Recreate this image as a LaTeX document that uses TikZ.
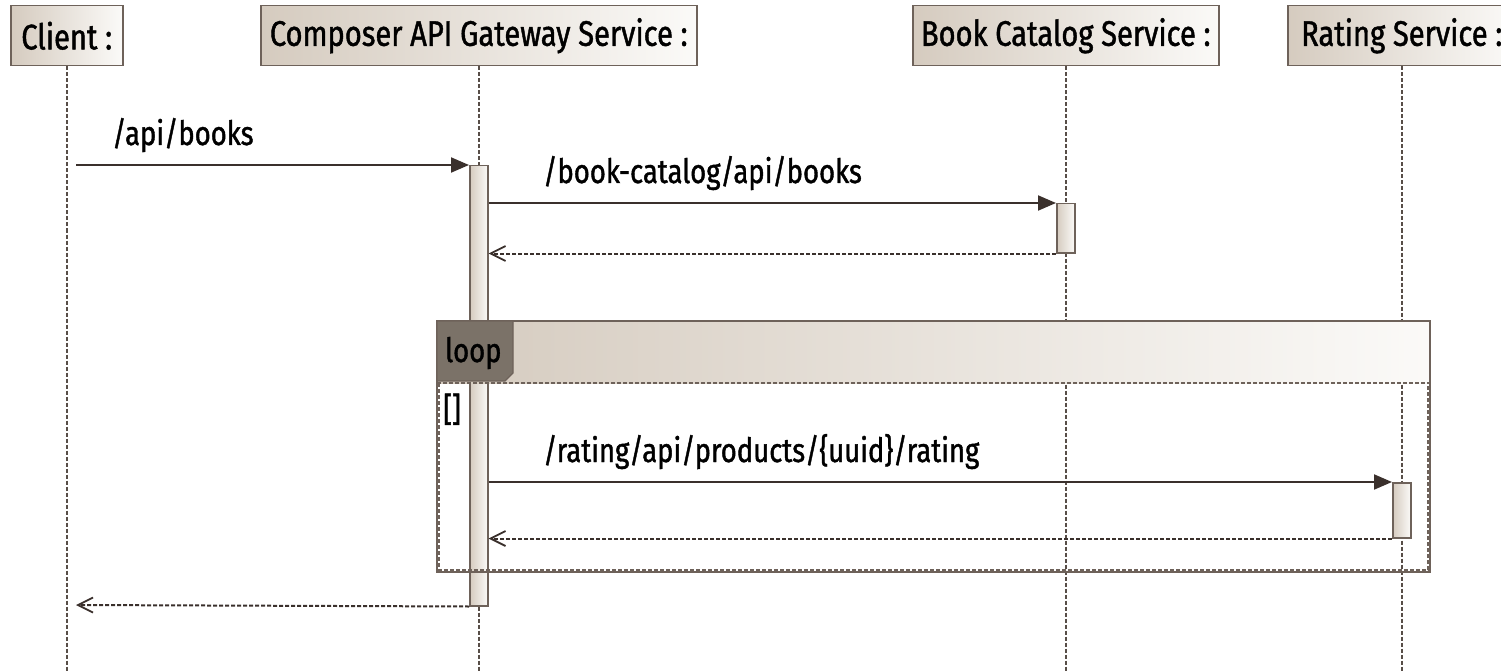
\documentclass[tikz,border=0pt]{standalone}
\usepackage{fontspec}
\setmainfont[FakeStretch=0.82,FakeBold=1.2]{Fira Sans}
\usetikzlibrary{arrows.meta}
\definecolor{edge}{HTML}{6E625A}
\definecolor{ink}{HTML}{3A302C}
\definecolor{headL}{HTML}{D5CBBF}
\definecolor{headR}{HTML}{FBFAF8}
\definecolor{tabfill}{HTML}{7B7268}
\tikzset{
  head/.style={draw=edge, line width=1.5pt, left color=headL, right color=headR,
    anchor=north west, minimum height=60pt, inner sep=0pt, text=black,
    font=\fontsize{35.5}{40}\selectfont},
  lifeline/.style={draw=edge!80!black, line width=1.5pt, dash pattern=on 4pt off 2pt},
  actbox/.style={draw=edge, line width=1.5pt, left color=headL, right color=headR,
    anchor=north, minimum width=18pt, inner sep=0pt},
  call/.style={draw=ink, line width=2pt, -{Triangle[length=18pt,width=15pt]}},
  reply/.style={draw=ink, line width=2pt, dash pattern=on 4pt off 2pt,
    -{Straight Barb[length=15pt,width=15pt,line width=1.8pt]}},
  lbl/.style={anchor=base west, inner sep=0pt, text=black},
}
\begin{document}
\begin{tikzpicture}[x=1pt, y=-1pt, font=\fontsize{33.5}{38}\selectfont]
\useasboundingbox (0,0) rectangle (1501,671);

% participants
\node[head, minimum width=112pt] (client) at (10,5) {Client :\hspace{4pt}};
\node[head, minimum width=436pt] (gw) at (260,5) {Composer API Gateway Service :\hspace{8pt}};
\node[head, minimum width=306pt] (book) at (912,5) {Book Catalog Service :\hspace{6pt}};
\node[head, minimum width=228pt] (rating) at (1287,5) {Rating Service :\hspace{12pt}};

% lifelines
\coordinate (client-end) at (client.south |- 0,671);
\coordinate (gw-end) at (gw.south |- 0,671);
\coordinate (book-end) at (book.south |- 0,671);
\coordinate (rating-end) at (rating.south |- 0,671);
\draw[lifeline] (client) -- (client-end);
\draw[lifeline] (gw) -- (gw-end);
\draw[lifeline] (book) -- (book-end);
\draw[lifeline] (rating) -- (rating-end);

% activations
\node[actbox, minimum height=440pt] (gwact) at (gw.south |- 0,165) {};
\node[actbox, minimum height=49pt] (bookact) at (book.south |- 0,203) {};
\node[actbox, minimum height=55pt] (ratingact) at (rating.south |- 0,482) {};

% loop fragment
\fill[left color=headL, right color=headR] (437,321) rectangle (1430,383);
\draw[edge, line width=1.5pt] (437,321) rectangle (1430,572);
\draw[edge, line width=1.8pt, dash pattern=on 4pt off 2pt] (437,383) -- (1430,383);
\draw[edge, line width=1.8pt, dash pattern=on 4pt off 2pt]
  (439,383) -- (439,570) -- (1428,570) -- (1428,383);
\fill[tabfill, draw=edge, line width=1.2pt]
  (437,321) -- (513,321) -- (513,373) -- (505,381) -- (437,381) -- cycle;
\node[lbl] (looplbl) at (445,362) {loop};
\node[lbl] (guard) at (443,421) {[]};

% messages
\coordinate (m1s) at (76,165);
\draw[call] (m1s) -- (gwact.north west);
\node[lbl] (l1) at (112,145) {/api/books};

\draw[call] (gwact.east |- bookact.north) -- (bookact.north west);
\node[lbl] (l2) at (543,183) {/book-catalog/api/books};
\draw[reply] (bookact.south west) -- (gwact.east |- bookact.south);

\draw[call] (gwact.east |- ratingact.north) -- (ratingact.north west);
\node[lbl] (l3) at (543,462) {/rating/api/products/\{uuid\}/rating};
\draw[reply] (ratingact.south west) -- (gwact.east |- ratingact.south);

\coordinate (m6e) at (76,605);
\draw[reply] (gwact.south west) -- (m6e);
\end{tikzpicture}
\end{document}
